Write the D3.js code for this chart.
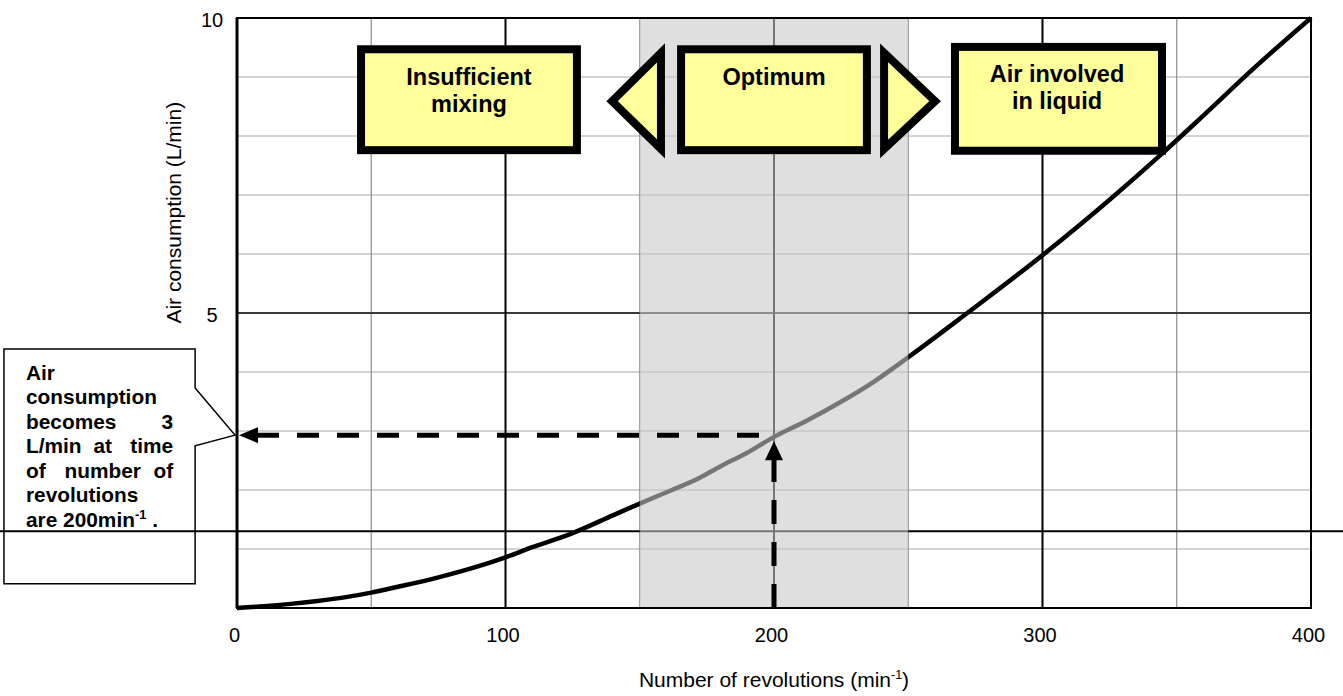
<!DOCTYPE html>
<html>
<head>
<meta charset="utf-8">
<script src="https://cdn.jsdelivr.net/npm/d3@7"></script>
<style>
  html, body { margin: 0; padding: 0; background: #fff; }
  svg { display: block; font-family: "Liberation Sans", Arial, sans-serif; }
</style>
</head>
<body>
<svg id="chart" width="1343" height="696"></svg>
<script>
// ---- data ----
const xTicks = [0, 100, 200, 300, 400];
const yTickLabels = [5, 10];
const xMinorGrid = [50, 150, 250, 350];
const xMajorGrid = [100, 300];
const xMidGrid = [200];
const yMinorGrid = [1, 2, 3, 4, 6, 7, 8, 9];
const yMajorGrid = [5];
const rpm = [0, 10, 20, 30, 40, 50, 60, 75, 90, 100, 110, 125, 140, 150, 162, 172, 180, 190, 200, 212, 224, 237, 250, 272, 300, 325, 344, 360, 380, 400];
const air = [0, 0.03, 0.07, 0.12, 0.18, 0.26, 0.36, 0.52, 0.71, 0.86, 1.03, 1.27, 1.57, 1.77, 2.0, 2.2, 2.4, 2.63, 2.9, 3.17, 3.47, 3.83, 4.25, 5.0, 5.98, 6.92, 7.68, 8.35, 9.2, 10];
const optimumRange = [150, 250];
const targetRpm = 200;
const targetAir = 2.93;
const strayLineValue = 1.3;
const boxes = [
  { lines: ["Insufficient", "mixing"], x0: 46.2, x1: 126.6, y0: 9.47, y1: 7.76, cx: 86.4, base: [8.86, 8.41] },
  { lines: ["Optimum"], x0: 165.4, x1: 234.6, y0: 9.47, y1: 7.76, cx: 200, base: [8.86] },
  { lines: ["Air involved", "in liquid"], x0: 267.4, x1: 344.5, y0: 9.51, y1: 7.75, cx: 305.4, base: [8.92, 8.46] }
];
const triangles = [
  { base: 157.9, tip: 139.7 },
  { base: 241.0, tip: 260.0 }
];
const triY = [9.41, 7.78, 8.59];
const calloutLines = [
  ["Air"], ["consumption"], ["becomes", "3"], ["L/min", "at", "time"], ["of", "number", "of"], ["revolutions"], ["are 200min", "-1", " ."]
];

// ---- scales ----
const x = d3.scaleLinear().domain([0, 400]).range([237, 1311]);
const y = d3.scaleLinear().domain([0, 10]).range([608, 18]);
const svg = d3.select("#chart");

// grid
const grid = svg.append("g");
grid.selectAll(".hmin").data(yMinorGrid).join("line")
  .attr("x1", x(0)).attr("x2", x(400)).attr("y1", d => y(d)).attr("y2", d => y(d))
  .attr("stroke", "#c4c4c4").attr("stroke-width", 1.5);
grid.selectAll(".vmin").data(xMinorGrid).join("line")
  .attr("y1", y(0)).attr("y2", y(10)).attr("x1", d => x(d)).attr("x2", d => x(d))
  .attr("stroke", "#8c8c8c").attr("stroke-width", 1.2);
grid.selectAll(".hmaj").data(yMajorGrid).join("line")
  .attr("x1", x(0)).attr("x2", x(400)).attr("y1", d => y(d)).attr("y2", d => y(d))
  .attr("stroke", "#3a3a3a").attr("stroke-width", 2);
grid.selectAll(".vmaj").data(xMajorGrid.concat(xMidGrid)).join("line")
  .attr("y1", y(0)).attr("y2", y(10)).attr("x1", d => x(d)).attr("x2", d => x(d))
  .attr("stroke", "#000").attr("stroke-width", 2);

// callout box (under the stray line)
const cb = { x0: -86.8, x1: -15.6, y0: 4.39, y1: 0.41, pTop: 3.73, pBot: 2.75 };
const cPath = d3.path();
cPath.moveTo(x(cb.x0), y(cb.y0));
cPath.lineTo(x(cb.x1), y(cb.y0));
cPath.lineTo(x(cb.x1), y(cb.pTop));
cPath.lineTo(x(0) - 2, y(targetAir));
cPath.lineTo(x(cb.x1), y(cb.pBot));
cPath.lineTo(x(cb.x1), y(cb.y1));
cPath.lineTo(x(cb.x0), y(cb.y1));
cPath.closePath();
svg.append("path").attr("d", cPath.toString()).attr("fill", "#fff")
  .attr("stroke", "#000").attr("stroke-width", 1.5);

// stray full-width line
svg.append("line").attr("x1", 0).attr("x2", 1343)
  .attr("y1", y(strayLineValue)).attr("y2", y(strayLineValue))
  .attr("stroke", "#000").attr("stroke-width", 2);

// curve
const lineGen = d3.line().x((d, i) => x(rpm[i])).y(d => y(d)).curve(d3.curveMonotoneX);
svg.append("path").attr("d", lineGen(air)).attr("fill", "none")
  .attr("stroke", "#000").attr("stroke-width", 4.5).attr("stroke-linejoin", "round");

// shaded optimum overlay
svg.append("rect").attr("x", x(optimumRange[0])).attr("width", x(optimumRange[1]) - x(optimumRange[0]))
  .attr("y", y(10)).attr("height", y(0) - y(10))
  .attr("fill", "rgb(201,201,201)").attr("fill-opacity", 0.59);

// plot border
svg.append("rect").attr("x", x(0)).attr("y", y(10)).attr("width", x(400) - x(0)).attr("height", y(0) - y(10))
  .attr("fill", "none").attr("stroke", "#000").attr("stroke-width", 2);
svg.append("line").attr("x1", x(0)).attr("x2", x(0)).attr("y1", y(10)).attr("y2", y(0))
  .attr("stroke", "#000").attr("stroke-width", 3);

// axes
const xAxis = svg.append("g").attr("transform", `translate(-3,${y(0)})`)
  .call(d3.axisBottom(x).tickValues(xTicks).tickSize(0).tickPadding(20).tickFormat(d3.format("d")));
xAxis.select(".domain").remove();
xAxis.selectAll("text").attr("font-size", 20).attr("fill", "#000").attr("font-family", "Liberation Sans, Arial, sans-serif");

const yAxis = svg.append("g").attr("transform", `translate(212,0)`)
  .call(d3.axisLeft(y).tickValues(yTickLabels).tickSize(0).tickPadding(0));
yAxis.select(".domain").remove();
yAxis.selectAll("text").attr("font-size", 20).attr("fill", "#000").attr("text-anchor", "middle")
  .attr("dy", "0.4em").attr("font-family", "Liberation Sans, Arial, sans-serif");

// axis titles
const xt = svg.append("text").attr("x", x(200)).attr("y", 687).attr("text-anchor", "middle")
  .attr("font-size", 21).attr("fill", "#000");
xt.append("tspan").text("Number of revolutions (min");
xt.append("tspan").text("-1").attr("font-size", 12.5).attr("dy", -8);
xt.append("tspan").text(")").attr("dy", 8);

svg.append("text").attr("transform", `translate(181,${y(6.7)}) rotate(-90)`)
  .attr("text-anchor", "middle").attr("font-size", 21).attr("fill", "#000")
  .text("Air consumption (L/min)");

// callout text (slightly stretched horizontally like the original)
const sx = 1.07;
const tLeft = x(-78.6), tRight = x(-23.8);
const rW = (tRight - tLeft) / sx;
const cText = svg.append("g").attr("font-size", 19.5).attr("font-weight", "bold").attr("fill", "#000")
  .attr("transform", `translate(${tLeft},0) scale(${sx},1)`);
calloutLines.forEach((words, i) => {
  const by = 380 + i * 24.5;
  if (words.length === 1) {
    cText.append("text").attr("x", 0).attr("y", by).text(words[0]);
  } else if (i === 6) {
    const t = cText.append("text").attr("x", 0).attr("y", by);
    t.append("tspan").text(words[0]);
    t.append("tspan").text(words[1]).attr("font-size", 12).attr("dy", -8);
    t.append("tspan").text(words[2]).attr("dy", 8);
  } else if (words.length === 2) {
    cText.append("text").attr("x", 0).attr("y", by).text(words[0]);
    cText.append("text").attr("x", rW).attr("y", by).attr("text-anchor", "end").text(words[1]);
  } else {
    cText.append("text").attr("x", 0).attr("y", by).text(words[0]);
    cText.append("text").attr("x", rW / 2 + 3).attr("y", by).attr("text-anchor", "middle").text(words[1]);
    cText.append("text").attr("x", rW).attr("y", by).attr("text-anchor", "end").text(words[2]);
  }
});

// dashed arrows
const ay = y(targetAir);
svg.append("line").attr("x1", x(0) + 20).attr("x2", x(targetRpm) - 6).attr("y1", ay).attr("y2", ay)
  .attr("stroke", "#000").attr("stroke-width", 5).attr("stroke-dasharray", "22,18");
svg.append("path")
  .attr("d", `M${x(0) + 2},${ay} L${x(0) + 21},${ay - 8} L${x(0) + 21},${ay + 8} Z`)
  .attr("fill", "#000");
const tipY = ay + 6;
svg.append("line").attr("x1", x(targetRpm)).attr("x2", x(targetRpm)).attr("y1", y(0)).attr("y2", tipY + 17)
  .attr("stroke", "#000").attr("stroke-width", 5).attr("stroke-dasharray", "24,18");
svg.append("path")
  .attr("d", `M${x(targetRpm)},${tipY} L${x(targetRpm) - 9},${tipY + 19} L${x(targetRpm) + 9},${tipY + 19} Z`)
  .attr("fill", "#000");

// boxes
const bg = svg.append("g");
boxes.forEach(b => {
  bg.append("rect").attr("x", x(b.x0)).attr("y", y(b.y0))
    .attr("width", x(b.x1) - x(b.x0)).attr("height", y(b.y1) - y(b.y0))
    .attr("fill", "#ffff99").attr("stroke", "#000").attr("stroke-width", 8);
  b.lines.forEach((l, i) => {
    bg.append("text").attr("x", x(b.cx)).attr("y", y(b.base[i])).attr("text-anchor", "middle")
      .attr("font-size", 23.5).attr("font-weight", "bold").attr("fill", "#000").text(l);
  });
});
triangles.forEach(t => {
  bg.append("path")
    .attr("d", `M${x(t.base)},${y(triY[0])} L${x(t.base)},${y(triY[1])} L${x(t.tip)},${y(triY[2])} Z`)
    .attr("fill", "#ffff99").attr("stroke", "#000").attr("stroke-width", 8).attr("stroke-linejoin", "miter");
});
</script>
</body>
</html>
